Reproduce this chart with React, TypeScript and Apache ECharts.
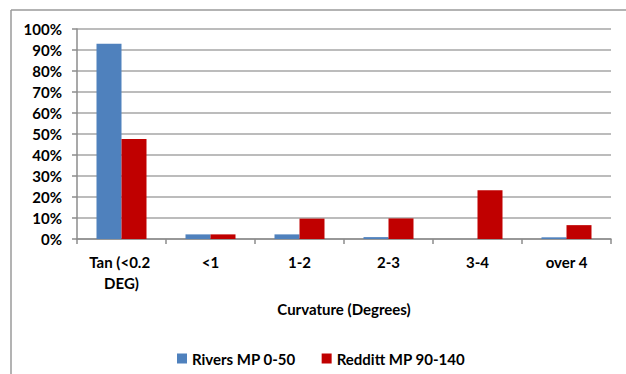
import React, { useEffect, useRef } from "react";
import * as echarts from "echarts";

const categories = ["Tan (<0.2 DEG)", "<1", "1-2", "2-3", "3-4", "over 4"];
const rivers = [0.93, 0.022, 0.022, 0.009, 0, 0.008];
const redditt = [0.476, 0.022, 0.097, 0.098, 0.232, 0.066];
const seriesNames = ["Rivers MP 0-50", "Redditt MP 90-140"];
const xTitle = "Curvature (Degrees)";

const FONT = "Lato";

export default function App() {
  const ref = useRef<HTMLDivElement>(null);
  useEffect(() => {
    if (!ref.current) return;
    const chart = echarts.init(ref.current, undefined, { renderer: "svg" });
    chart.setOption({
      animation: false,
      backgroundColor: "#ffffff",
      textStyle: { fontFamily: FONT },
      grid: { left: 77, right: 15, top: 29, bottom: 135 },
      graphic: [
        {
          type: "line",
          shape: { x1: 11, y1: 10, x2: 626, y2: 10 },
          style: { stroke: "#9a9a9a", lineWidth: 1.5 },
          silent: true,
        },
        {
          type: "line",
          shape: { x1: 11, y1: 10, x2: 11, y2: 374 },
          style: { stroke: "#9a9a9a", lineWidth: 1.5 },
          silent: true,
        },
      ],
      legend: {
        left: 172,
        top: 346,
        icon: "rect",
        itemWidth: 10,
        itemHeight: 10,
        itemGap: 26,
        data: seriesNames,
        textStyle: { fontFamily: FONT, fontWeight: "bold", fontSize: 15, color: "#000" },
      },
      xAxis: {
        type: "category",
        data: categories,
        name: xTitle,
        nameLocation: "middle",
        nameGap: 62,
        nameTextStyle: { fontFamily: FONT, fontWeight: "bold", fontSize: 15, color: "#000" },
        axisLine: { lineStyle: { color: "#8c8c8c", width: 1.5 } },
        axisTick: { show: true, length: 5, lineStyle: { color: "#8c8c8c", width: 1.5 } },
        axisLabel: {
          interval: 0,
          margin: 12,
          width: 80,
          overflow: "break",
          lineHeight: 21,
          fontFamily: FONT,
          fontWeight: "bold",
          fontSize: 15,
          color: "#000",
        },
      },
      yAxis: {
        type: "value",
        min: 0,
        max: 1,
        interval: 0.1,
        axisLine: { show: true, lineStyle: { color: "#8c8c8c", width: 1.5 } },
        axisTick: { show: true, length: 5, lineStyle: { color: "#8c8c8c", width: 1.5 } },
        splitLine: { lineStyle: { color: "#a6a6a6", width: 1.5 } },
        axisLabel: {
          margin: 15,
          formatter: (v: number) => Math.round(v * 100) + "%",
          fontFamily: FONT,
          fontWeight: "bold",
          fontSize: 15,
          color: "#000",
        },
      },
      series: [
        {
          name: seriesNames[0],
          type: "bar",
          data: rivers,
          barWidth: 25,
          barGap: "0%",
          itemStyle: { color: "#4F81BD" },
        },
        {
          name: seriesNames[1],
          type: "bar",
          data: redditt,
          barWidth: 25,
          barGap: "0%",
          itemStyle: { color: "#C00000" },
        },
      ],
    });
    return () => chart.dispose();
  }, []);
  return <div ref={ref} style={{ width: 626, height: 374, position: "absolute", left: 0, top: 0 }} />;
}
